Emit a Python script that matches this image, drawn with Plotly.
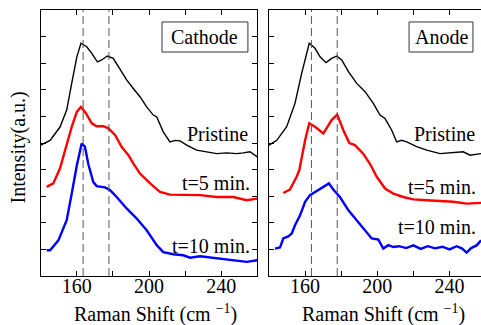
import plotly.graph_objects as go

# ---------------- data ----------------
cat_pristine_x = [140, 145.2, 150.7, 154.4, 157.2, 160, 162.3, 165.5, 168.3, 171.4, 173.8, 176.9, 180.2, 183.9,
                  187.6, 191.3, 195, 198.7, 202.4, 204.3, 207.9, 211.6, 214.4, 217.2, 220.9, 226.4, 232, 237.5,
                  243, 248.6, 252.2, 255.9, 260]
cat_pristine_y = [4.92, 5.1, 5.6, 6.24, 7.25, 8.23, 8.75, 8.62, 8.37, 8.05, 8.12, 8.27, 8.18, 7.8,
                  7.37, 7.05, 6.74, 6.36, 6.05, 5.98, 5.42, 5.04, 5.1, 5.08, 4.92, 4.73, 4.67, 4.6,
                  4.63, 4.6, 4.63, 4.67, 4.48]

cat_t5_x = [143.3, 147, 150.7, 154.4, 157.2, 160, 162.3, 165.1, 168.3, 171, 174.7, 177.5, 181.2, 184.9, 188.5,
            191.3, 195, 200.6, 206.1, 211.6, 219, 228.3, 237.5, 246.7, 254.1, 260]
cat_t5_y = [3.35, 3.48, 4.05, 4.98, 5.61, 6.17, 6.36, 6.11, 5.74, 5.63, 5.63, 5.55, 5.3, 4.85, 4.55,
            4.23, 3.85, 3.48, 3.16, 3.06, 3.06, 3.04, 2.97, 2.97, 2.85, 2.91]

cat_t10_x = [143.3, 145.2, 149.8, 154.4, 157.2, 160, 162.7, 164.5, 166.4, 169.1, 171, 175.6, 178.4, 182.1,
             187.6, 193.2, 198.7, 204.3, 207.9, 213.5, 219, 222.7, 228.3, 233.8, 239.3, 246.7, 254.1, 260]
cat_t10_y = [0.97, 0.97, 1.34, 2.1, 3.1, 4.15, 4.98, 4.86, 4.2, 3.54, 3.38, 3.33, 3.23, 2.97,
             2.54, 2.16, 1.72, 1.16, 0.9, 0.82, 0.78, 0.69, 0.74, 0.69, 0.65, 0.59, 0.53, 0.59]

an_pristine_x = [140, 144.3, 149.8, 154.4, 158.1, 162.3, 165.5, 168.3, 171.6, 174.7, 177.5, 180.3, 184, 188.6,
                 193.2, 197.8, 201.5, 204.3, 208, 210.7, 213.5, 216.3, 221.8, 227.4, 234.7, 242.1, 247.6,
                 251.4, 257.5]
an_pristine_y = [4.92, 5.1, 5.61, 6.49, 7.62, 8.75, 8.56, 8.24, 8.02, 8.18, 8.27, 8.12, 7.68, 7.24,
                 6.93, 6.49, 6.05, 5.92, 5.48, 5.04, 5.1, 5.04, 4.86, 4.73, 4.6, 4.63, 4.67,
                 4.54, 4.6]

an_t5_x = [147.9, 151.6, 155.3, 156.8, 160, 162.3, 165.5, 170.1, 174.7, 177.8, 181.2, 184.5, 187.6, 192.2,
           195.9, 199.7, 204.3, 208.9, 214.4, 220, 227.4, 234.7, 242.1, 249.5, 257.5]
an_t5_y = [3.12, 3.25, 3.73, 3.98, 5.1, 5.74, 5.61, 5.36, 5.86, 6.07, 5.48, 5.0, 4.92, 4.6,
           4.22, 3.73, 3.29, 3.1, 2.97, 2.88, 2.85, 2.82, 2.79, 2.72, 2.75]

an_t10_x = [143.3, 146.1, 147.9, 150.7, 152.6, 154.4, 157.2, 160, 162.7, 165.5, 168.3, 171, 173.2, 175.6,
            179.3, 184, 188.6, 193.2, 196.9, 200.6, 203.3, 206.1, 208.9, 212, 216, 220, 224, 228, 232,
            236, 240, 244, 247, 249.5, 252, 255, 257.5]
an_t10_y = [1.03, 1.07, 1.41, 1.49, 1.6, 1.91, 2.28, 2.79, 3.04, 3.16, 3.29, 3.38, 3.48, 3.25,
            2.97, 2.47, 2.1, 1.72, 1.41, 1.37, 1.03, 1.16, 1.09, 1.12, 1.05, 1.15, 1.02, 1.12, 1.04,
            1.1, 1.0, 1.12, 1.03, 0.88, 1.05, 1.15, 1.34]

peak_positions = [163.5, 177.8]
x_tickvals = [160, 200, 240]
x_ticktext = ["160", "200", "240"]
y_tickvals = [1, 2, 3, 4, 5, 6, 7, 8, 9]
series_labels = ["Pristine", "t=5 min.", "t=10 min."]
panel_names = ["Cathode", "Anode"]

# ---------------- figure ----------------
FONT = "Liberation Serif"
W, H = 481, 325
fig = go.Figure()

def add(x, y, color, width, xa, ya):
    fig.add_trace(go.Scatter(x=x, y=y, mode="lines", line=dict(color=color, width=width),
                             xaxis=xa, yaxis=ya, showlegend=False, hoverinfo="skip"))

add(cat_pristine_x, cat_pristine_y, "black", 1.4, "x", "y")
add(cat_t5_x, cat_t5_y, "#ff0000", 2.4, "x", "y")
add(cat_t10_x, cat_t10_y, "#0000ff", 2.4, "x", "y")
add(an_pristine_x, an_pristine_y, "black", 1.4, "x2", "y2")
add(an_t5_x, an_t5_y, "#ff0000", 2.4, "x2", "y2")
add(an_t10_x, an_t10_y, "#0000ff", 2.4, "x2", "y2")

axis_common = dict(ticks="inside", ticklen=5, tickwidth=1, tickcolor="black",
                   showline=True, linecolor="black", linewidth=1, showgrid=False, zeroline=False,
                   tickfont=dict(family=FONT, size=20, color="black"))
x_minor = dict(ticks="inside", tick0=140, dtick=20, ticklen=5, tickwidth=1, tickcolor="black", showgrid=False)

fig.update_layout(
    width=W, height=H,
    margin=dict(l=0, r=0, t=10, b=49),
    paper_bgcolor="white", plot_bgcolor="white",
    xaxis=dict(domain=[40.7 / W, 257.3 / W], range=[140, 260], tickvals=x_tickvals, ticktext=x_ticktext,
               minor=x_minor, mirror="ticks", anchor="y", ticklabelstandoff=-8, **axis_common),
    yaxis=dict(domain=[0, 1], range=[0, 10], tickvals=y_tickvals, showticklabels=False,
               mirror="ticks", anchor="x", **axis_common),
    xaxis2=dict(domain=[269 / W, 1.0], range=[140, 140 + (W - 269) / 1.805], tickvals=x_tickvals,
                ticktext=x_ticktext, minor=x_minor, mirror="ticks", anchor="y2", ticklabelstandoff=-8,
                **axis_common),
    yaxis2=dict(domain=[0, 1], range=[0, 10], tickvals=y_tickvals, showticklabels=False,
                mirror=False, anchor="x2", **axis_common),
)

# dashed reference lines
for xr, yr in (("x", "y"), ("x2", "y2")):
    for p in peak_positions:
        fig.add_shape(type="line", xref=xr, yref=yr, x0=p, x1=p, y0=0, y1=10,
                      line=dict(color="#555555", width=1, dash="8px,4px"))

# panel label boxes
fig.add_shape(type="rect", xref="x", yref="y", x0=207.2, x1=254.8, y0=8.42, y1=9.55,
              line=dict(color="#333333", width=1))
fig.add_shape(type="rect", xref="x2", yref="y2", x0=217.6, x1=253.0, y0=8.42, y1=9.55,
              line=dict(color="#333333", width=1))
fig.add_annotation(x=231.0, y=8.985, xref="x", yref="y", text=panel_names[0], showarrow=False,
                   xanchor="center", yanchor="middle", font=dict(family=FONT, size=20, color="black"))
fig.add_annotation(x=235.3, y=8.985, xref="x2", yref="y2", text=panel_names[1], showarrow=False,
                   xanchor="center", yanchor="middle", font=dict(family=FONT, size=20, color="black"))

# series labels
lab_font = dict(family=FONT, size=20, color="black")
for (xr, yr, xs, ys) in (("x", "y", [256, 257.1, 257.1], [5.33, 3.49, 1.12]),
                         ("x2", "y2", [255.2, 255.8, 255.8], [5.33, 3.34, 1.83])):
    for t, xv, yv in zip(series_labels, xs, ys):
        fig.add_annotation(x=xv, y=yv, xref=xr, yref=yr, text=t, showarrow=False,
                           xanchor="right", yanchor="middle", font=lab_font)

# axis titles
fig.add_annotation(x=18 / W, y=(276 - 147.5) / 266, xref="paper", yref="paper", text="Intensity(a.u.)",
                   textangle=-90, showarrow=False, xanchor="center", yanchor="middle",
                   font=dict(family=FONT, size=20, color="black"))
for cx in (155.5, 383.5):
    fig.add_annotation(x=cx / W, y=(276 - 313) / 266, xref="paper", yref="paper",
                       text="Raman Shift (cm <sup>−1</sup>)", showarrow=False,
                       xanchor="center", yanchor="middle",
                       font=dict(family=FONT, size=20, color="black"))

fig.write_html("out.html", config={"displayModeBar": False},
               post_script="document.body.style.margin='0';")
